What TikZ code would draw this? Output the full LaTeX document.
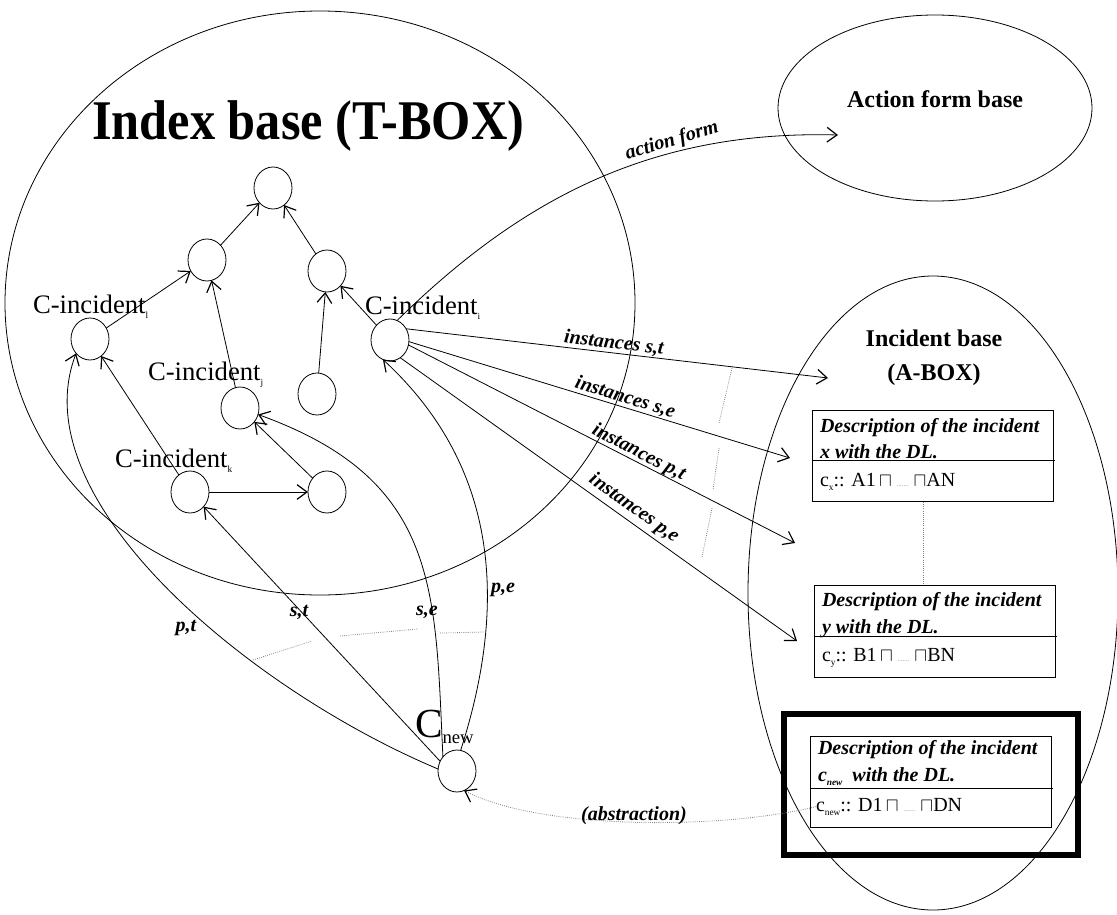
\documentclass[tikz,border=0pt]{standalone}
\usepackage{fontspec}
\setmainfont{Liberation Serif}
\usetikzlibrary{shapes.geometric,arrows.meta}
\newcommand{\sbx}[1]{\raisebox{-0.22em}{\fontsize{7}{7}\selectfont #1}}
\newcommand{\grdots}{\textcolor{gray}{\fontsize{5}{5}\selectfont .......}}
\begin{document}
\begin{tikzpicture}[x=0.75pt,y=-0.75pt,
  every node/.style={inner sep=0pt, outer sep=0pt},
  cn/.style={draw, ellipse, minimum width=28.5pt, minimum height=31.5pt, line width=0.6pt},
  arr/.style={-{Straight Barb[length=7.5pt,width=11pt,line width=0.9pt]}, line width=0.6pt},
  lbl/.style={font=\fontsize{15}{15}\selectfont\bfseries\itshape},
  dots/.style={densely dotted, gray, line width=0.6pt},
  ci/.style={font=\fontsize{20}{20}\selectfont, anchor=base west},
  desc/.style={font=\fontsize{15}{15}\selectfont\bfseries\itshape, anchor=base west},
  formula/.style={font=\fontsize{15}{15}\selectfont, anchor=base west},
  box/.style={draw, line width=0.6pt},
  thin/.style={line width=0.6pt}
]
\useasboundingbox (0,0) rectangle (1117,914);

% containers
\draw[thin] (320,303) ellipse [x radius=315, y radius=292];
\draw[thin] (935,108) ellipse [x radius=157, y radius=93];
\draw[thin] (933,593) ellipse [x radius=185, y radius=317];

% titles
\node[anchor=base west, font=\fontsize{42}{42}\selectfont\bfseries] (title) at (92,139) {\scalebox{0.9}[1]{Index base (T-BOX)}};
\node[anchor=base, font=\fontsize{18}{18}\selectfont\bfseries] (aftitle) at (935,107) {Action form base};
\node[anchor=base, font=\fontsize{18}{18}\selectfont\bfseries] (ibtitle1) at (934,346) {Incident base};
\node[anchor=base, font=\fontsize{18}{18}\selectfont\bfseries] (ibtitle2) at (934,380) {(A-BOX)};

% concept nodes
\node[cn] (top) at (273,188) {};
\node[cn] (lm) at (207,260) {};
\node[cn] (rm) at (327,271) {};
\node[cn] (nl) at (90,339) {};
\node[cn] (ni) at (390,340) {};
\node[cn] (nj) at (240,408) {};
\node[cn] (nu) at (317,394) {};
\node[cn] (nk) at (190,492) {};
\node[cn] (nr) at (327,492) {};
\node[cn] (nn) at (457,771) {};

% concept labels
\node[ci] (lbl) at (33,313) {C-incident\sbx{l}};
\node[ci] (lbj) at (148,380) {C-incident\sbx{j}};
\node[ci] (lbk) at (115,467) {C-incident\sbx{k}};
\node[ci] (lbi) at (365,314) {C-incident\sbx{i}};
\node[anchor=base west] (lbn) at (415,737) {\fontsize{31}{31}\selectfont C\raisebox{-4.5pt}{\fontsize{14}{14}\selectfont new}};

% tree edges
\draw[arr] (lm) -- (top);
\draw[arr] (rm) -- (top);
\draw[arr] (nl) -- (lm);
\draw[arr] (nj) -- (lm);
\draw[arr] (nu) -- (rm);
\draw[arr] (ni) -- (rm);
\draw[arr] (nk) -- (nr);
\draw[arr] (nr) -- (nj);
\draw[arr] (nk) -- (nl);

% edges from C_new
\draw[arr] (nn.174) .. controls (250,690) and (20,500) .. (nl.226);
\draw[arr] (nn.150) -- (nk);
\draw[arr] (nn.135) .. controls (435,590) and (440,480) .. (nj);
\draw[arr] (nn.80) .. controls (522,560) and (470,440) .. (ni.250);
\node[lbl] (ptl) at (186,628) {p,t};
\node[lbl] (stl) at (299,612) {s,t};
\node[lbl] (sel) at (427,612) {s,e};
\node[lbl] (pel) at (503,590) {p,e};

% dotted marks
\draw[dots] (253,660) -- (312,641);
\draw[dots] (340,636) -- (418,629);
\draw[dots] (440,633) -- (485,632);
\draw[dots] (732,368) -- (719,423);
\draw[dots] (719,448) -- (713,490);
\draw[dots] (712,508) -- (702,557);

% action form
\coordinate (afend) at (838,135);
\draw[arr] (ni.70) .. controls (520,200) and (650,130) .. (afend);
\node[lbl, rotate=17] (afl) at (672,141) {action form};

% instances
\coordinate (ist) at (828,378);
\coordinate (ise) at (790,458);
\coordinate (ipt) at (795,543);
\coordinate (ipe) at (797,641);
\draw[arr] (ni.35) -- (ist) node[lbl, sloped, above, pos=0.49, yshift=1pt] {instances s,t};
\draw[arr] (ni.355) -- (ise) node[lbl, sloped, above, pos=0.56, yshift=1pt] {instances s,e};
\draw[arr] (ni.345) -- (ipt) node[lbl, sloped, above, pos=0.585, yshift=0pt] {instances p,t};
\draw[arr] (ni.300) -- (ipe) node[lbl, sloped, above, pos=0.57, yshift=3pt] {instances p,e};

% incident boxes
\draw[box] (812,410) rectangle (1053,501);
\draw[thin] (812,460) -- (1055,460);
\node[desc] (d1a) at (820,432) {Description of the incident};
\node[desc] (d1b) at (820,458) {x with the DL.};
\node[formula] (f1) at (820,486) {c\sbx{x}:: A1\,$\sqcap$\ \grdots\ $\sqcap$AN};

\draw[dots] (923,502) -- (923,585);

\draw[box] (814,585) rectangle (1055,677);
\draw[thin] (814,636) -- (1057,636);
\node[desc] (d2a) at (822,606) {Description of the incident};
\node[desc] (d2b) at (822,633) {y with the DL.};
\node[formula] (f2) at (822,661) {c\sbx{y}:: B1\,$\sqcap$\ \grdots\ $\sqcap$BN};

\draw[line width=4.5pt] (784,714) rectangle (1078,855);
\draw[box] (810,736) rectangle (1051,827);
\draw[thin] (810,788) -- (1053,788);
\node[desc] (d3a) at (818,754) {Description of the incident};
\node[desc] (d3b) at (818,781) {c\sbx{new}\ \ with the DL.};
\node[formula] (f3) at (816,811) {c\sbx{new}:: D1\,$\sqcap$\ \grdots\ $\sqcap$DN};

% abstraction
\draw[dots, -{Straight Barb[length=7.5pt,width=11pt,line width=0.9pt,color=black]}] (f3.west) .. controls (720,830) and (540,830) .. (nn.290);
\node[lbl] (abl) at (634,816) {(abstraction)};
\end{tikzpicture}
\end{document}
